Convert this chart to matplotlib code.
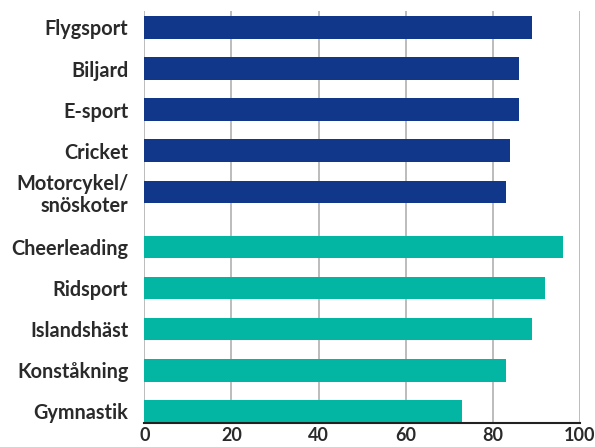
import matplotlib

matplotlib.use("Agg")

import matplotlib.pyplot as plt
import numpy as np

# data
group_a = ["Flygsport", "Biljard", "E-sport", "Cricket", "Motorcykel/\nsnöskoter"]
values_a = [89, 86, 86, 84, 83]
group_b = ["Cheerleading", "Ridsport", "Islandshäst", "Konståkning", "Gymnastik"]
values_b = [96, 92, 89, 83, 73]
x_ticks = [0, 20, 40, 60, 80, 100]

COLOR_A = "#10378a"
COLOR_B = "#03b6a4"
TEXT = "#2a2a2a"

plt.rcParams.update({
    "font.family": ["Lato", "DejaVu Sans"],
    "font.size": 12,
})

fig = plt.figure(figsize=(5.95, 4.47), dpi=100)
ax = fig.add_axes([144.3 / 595, 1 - 423.3 / 447, (580 - 144.3) / 595, (423.3 - 11) / 447])

gap = 0.34
pos_a = np.arange(len(group_a))
pos_b = np.arange(len(group_b)) + len(group_a) + gap

ax.barh(pos_a, values_a, height=0.55, color=COLOR_A, zorder=3)
ax.barh(pos_b, values_b, height=0.55, color=COLOR_B, zorder=3)

ax.set_yticks(np.concatenate([pos_a, pos_b]))
ax.set_yticklabels(group_a + group_b, fontweight="bold", color=TEXT, fontsize=14.3,
                   linespacing=1.15)
ax.set_ylim(pos_b[-1] + 0.29, -0.4)

ax.set_xlim(0, 100)
ax.set_xticks(x_ticks)
ax.set_xticklabels([str(t) for t in x_ticks], fontweight="bold", color=TEXT, fontsize=13)

ax.grid(axis="x", color="#b0b0b0", linewidth=1.2, zorder=0)
ax.tick_params(axis="both", length=0)
ax.tick_params(axis="y", pad=11.5)
ax.tick_params(axis="x", pad=3)

for side in ["top", "right", "left"]:
    ax.spines[side].set_visible(False)
ax.spines["bottom"].set_color("#222222")
ax.spines["bottom"].set_linewidth(1.5)
ax.spines["bottom"].set_zorder(4)

fig.savefig("out.png", dpi=100)
